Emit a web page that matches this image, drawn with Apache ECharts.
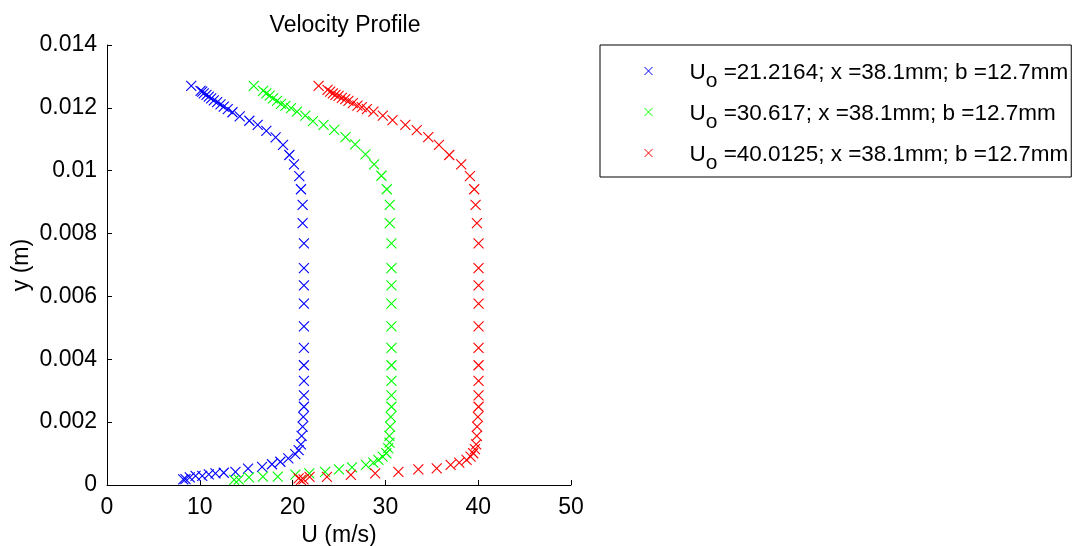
<!DOCTYPE html>
<html>
<head>
<meta charset="utf-8">
<script src="https://cdn.jsdelivr.net/npm/echarts@6/dist/echarts.min.js"></script>
<style>
  html, body { margin: 0; padding: 0; background: #ffffff; }
  #chart { width: 1075px; height: 546px; }
</style>
</head>
<body>
<div id="chart"></div>
<script>
// Measured velocity profiles: U (m/s) against height y (m), three free-stream speeds
const blueU = [8.22, 8.46, 8.92, 9.54, 10.26, 10.97, 11.69, 12.58, 13.84, 15.20,
  16.71, 17.78, 18.68, 19.54, 20.29, 20.65, 20.90, 20.97, 21.08, 21.15,
  21.22, 21.22, 21.22, 21.22, 21.22, 21.22, 21.22, 21.22, 21.22, 21.22,
  21.08, 21.08, 20.90, 20.72, 20.15, 19.65, 18.97, 18.17, 17.17, 16.24,
  15.34, 14.30, 13.52, 13.01, 12.58, 12.23, 11.87, 11.51, 11.23, 10.97,
  10.72, 10.43, 10.26, 10.08, 9.08];
const blueY = [0.00018, 0.00019, 0.00024, 0.00029, 0.00029, 0.00034, 0.00037, 0.00039, 0.00042, 0.00052,
  0.00058, 0.00066, 0.00074, 0.00085, 0.00098, 0.00111, 0.00129, 0.00156, 0.00186, 0.00217,
  0.00249, 0.00285, 0.00331, 0.00381, 0.00436, 0.00505, 0.00577, 0.00635, 0.00690, 0.00769,
  0.00833, 0.00891, 0.00941, 0.00983, 0.01020, 0.01050, 0.01082, 0.01106, 0.01127, 0.01146,
  0.01159, 0.01173, 0.01186, 0.01196, 0.01204, 0.01211, 0.01218, 0.01224, 0.01230, 0.01236,
  0.01241, 0.01246, 0.01252, 0.01254, 0.01270];

const greenU = [13.70, 14.20, 15.30, 16.80, 18.40, 20.30, 21.80, 23.50, 25.00, 26.40,
  27.90, 28.70, 29.25, 29.70, 30.10, 30.30, 30.45, 30.43, 30.51, 30.58,
  30.65, 30.65, 30.65, 30.65, 30.65, 30.65, 30.65, 30.65, 30.65, 30.65,
  30.47, 30.47, 30.15, 29.57, 28.78, 27.85, 26.74, 25.70, 24.48, 23.33,
  22.19, 21.37, 20.47, 19.83, 19.22, 18.75, 18.32, 17.89, 17.53, 17.17,
  16.82, 15.81];
const greenY = [0.00016, 0.00017, 0.00024, 0.00027, 0.00027, 0.00033, 0.00037, 0.00042, 0.00050, 0.00056,
  0.00064, 0.00071, 0.00080, 0.00090, 0.00101, 0.00117, 0.00135, 0.00156, 0.00186, 0.00217,
  0.00249, 0.00285, 0.00331, 0.00381, 0.00436, 0.00505, 0.00577, 0.00635, 0.00690, 0.00769,
  0.00833, 0.00891, 0.00941, 0.00984, 0.01020, 0.01052, 0.01084, 0.01107, 0.01130, 0.01146,
  0.01158, 0.01175, 0.01188, 0.01199, 0.01206, 0.01213, 0.01222, 0.01230, 0.01239, 0.01246,
  0.01254, 0.01270];

const redU = [20.65, 20.90, 21.18, 21.83, 23.70, 26.28, 28.90, 31.40, 33.55, 35.53,
  37.03, 37.96, 38.75, 39.18, 39.46, 39.65, 39.78, 39.85, 39.88, 39.97,
  40.04, 40.04, 40.04, 40.04, 40.04, 40.04, 40.04, 40.04, 40.04, 40.04,
  39.86, 39.72, 39.57, 39.11, 38.17, 36.88, 35.77, 34.62, 33.38, 32.15,
  30.77, 29.72, 28.71, 28.00, 27.46, 26.99, 26.49, 26.02, 25.67, 25.31,
  24.95, 24.62, 24.34, 24.05, 23.76, 22.80];
const redY = [0.00021, 0.00016, 0.00018, 0.00026, 0.00026, 0.00032, 0.00037, 0.00042, 0.00050, 0.00053,
  0.00064, 0.00071, 0.00080, 0.00090, 0.00101, 0.00114, 0.00129, 0.00156, 0.00186, 0.00217,
  0.00249, 0.00285, 0.00331, 0.00381, 0.00436, 0.00505, 0.00577, 0.00635, 0.00690, 0.00769,
  0.00833, 0.00891, 0.00941, 0.00983, 0.01020, 0.01050, 0.01082, 0.01107, 0.01129, 0.01146,
  0.01161, 0.01175, 0.01188, 0.01196, 0.01202, 0.01207, 0.01215, 0.01222, 0.01228, 0.01232,
  0.01238, 0.01241, 0.01246, 0.01252, 0.01257, 0.01270];

// Free-stream velocities shown in the legend
const uoLabels = ['21.2164', '30.617', '40.0125'];
const stationLabel = 'x =38.1mm; b =12.7mm';
const seriesColors = ['#0000ff', '#00ff00', '#ff0000'];

// Axis ticks
const xTicks = { min: 0, max: 50, interval: 10 };
const yTicks = { min: 0, max: 0.014, interval: 0.002 };

const FONT = '"Liberation Sans", Arial, Helvetica, sans-serif';
const CROSS = 'path://M0,0L10,10M10,0L0,10';

function pairs(us, ys) {
  return us.map(function (u, i) { return [u, ys[i]]; });
}

const profiles = [pairs(blueU, blueY), pairs(greenU, greenY), pairs(redU, redY)];
const seriesNames = uoLabels.map(function (v) { return 'Uo =' + v + '; ' + stationLabel; });

const chart = echarts.init(document.getElementById('chart'), null, { renderer: 'canvas' });

chart.setOption({
  animation: false,
  backgroundColor: '#ffffff',
  title: {
    text: 'Velocity Profile',
    left: 340,
    textAlign: 'center',
    top: 9,
    textStyle: { fontFamily: FONT, fontSize: 23, fontWeight: 'normal', color: '#000' }
  },
  grid: { left: 107, right: 504, top: 45, bottom: 61, containLabel: false, outerBoundsMode: 'none' },
  xAxis: {
    type: 'value',
    min: xTicks.min, max: xTicks.max, interval: xTicks.interval,
    name: 'U (m/s)',
    nameLocation: 'middle',
    nameGap: 37,
    nameTextStyle: { fontFamily: FONT, fontSize: 23, color: '#000' },
    axisLine: { show: true, onZero: false, lineStyle: { color: '#000', width: 1 } },
    axisTick: { show: true, inside: true, length: 5, lineStyle: { color: '#000' } },
    axisLabel: { fontFamily: FONT, fontSize: 23, color: '#000', margin: 11 },
    splitLine: { show: false }
  },
  yAxis: {
    type: 'value',
    min: yTicks.min, max: yTicks.max, interval: yTicks.interval,
    name: 'y (m)',
    nameLocation: 'middle',
    nameGap: 74,
    nameTextStyle: { fontFamily: FONT, fontSize: 23, color: '#000' },
    axisLine: { show: true, onZero: false, lineStyle: { color: '#000', width: 1 } },
    axisTick: { show: true, inside: true, length: 5, lineStyle: { color: '#000' } },
    axisLabel: {
      fontFamily: FONT, fontSize: 23, color: '#000', margin: 10,
      formatter: function (v) { return String(+v.toFixed(3)); }
    },
    splitLine: { show: false }
  },
  legend: {
    orient: 'vertical',
    left: 600,
    top: 45,
    padding: [14, 3, 3, 44],
    itemGap: 8,
    itemWidth: 8,
    itemHeight: 8,
    borderColor: '#000',
    borderWidth: 1,
    backgroundColor: '#fff',
    selectedMode: false,
    itemStyle: { borderWidth: 1 },
    formatter: function (name) {
      const i = seriesNames.indexOf(name);
      return '{u|U}{o|o}{t| =' + uoLabels[i] + '; ' + stationLabel + '}';
    },
    textStyle: {
      fontFamily: FONT, fontSize: 22.5, color: '#000',
      rich: {
        u: { fontFamily: FONT, fontSize: 22.5, lineHeight: 24, verticalAlign: 'top', padding: [2, 0, 0, 32] },
        o: { fontFamily: FONT, fontSize: 21, lineHeight: 24, verticalAlign: 'top', padding: [12, 0, 0, 0] },
        t: { fontFamily: FONT, fontSize: 22.5, lineHeight: 24, verticalAlign: 'top', padding: [2, 0, 0, 0] }
      }
    },
    data: seriesNames
  },
  series: profiles.map(function (d, i) {
    return {
      name: seriesNames[i],
      type: 'scatter',
      data: d,
      symbol: CROSS,
      symbolSize: 10,
      itemStyle: { color: 'rgba(0,0,0,0)', borderColor: seriesColors[i], borderWidth: 1.1, opacity: 1 },
      emphasis: { disabled: true }
    };
  })
});
</script>
</body>
</html>
